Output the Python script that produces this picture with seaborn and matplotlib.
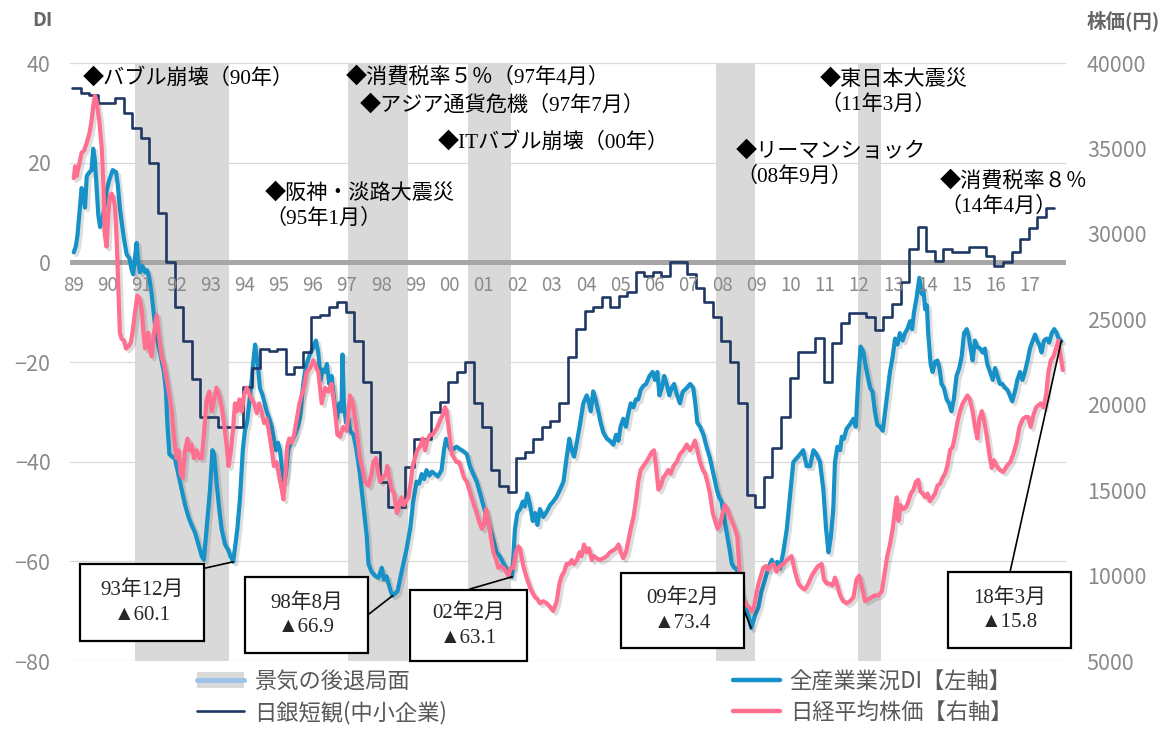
import numpy as np
import pandas as pd
import seaborn as sns
import matplotlib.pyplot as plt
import matplotlib.patheffects as pe
from matplotlib.patches import Patch, Rectangle
from matplotlib.lines import Line2D

W, H = 1176, 729

# ---------------- data ----------------
year_labels = ["89", "90", "91", "92", "93", "94", "95", "96", "97", "98", "99",
               "00", "01", "02", "03", "04", "05", "06", "07", "08", "09", "10",
               "11", "12", "13", "14", "15", "16", "17"]

# recession phases (first month, last month)
recession_start = ["1991-02", "1997-05", "2000-11", "2008-02", "2012-04"]
recession_end = ["1993-10", "1999-01", "2002-01", "2009-03", "2012-11"]

# BOJ tankan, small enterprises, quarterly from 1989 Q2 (DI)
tankan_di = [35, 34, 33.5,
             32, 32, 33, 30,
             27, 25, 20, 10,
             0, -9, -15.7, -23.5,
             -31, -31, -33, -33,
             -33, -25, -21.2, -17.3,
             -17.7, -17.3, -22.5, -21,
             -18, -11, -10.5, -9,
             -8, -10, -15.7, -24,
             -38, -44, -49, -49,
             -41, -35.4, -35.4, -30,
             -28, -24, -22, -20,
             -28.3, -33, -41.7, -44.8,
             -46, -39.3, -38, -35.4,
             -33, -31.8, -28.3, -18.9,
             -13.4, -9.8, -9, -6.9,
             -9, -6.7, -5.9, -2,
             -2.8, -2, -2.8, 0,
             0, -2.4, -5.1, -7.9,
             -11, -15.7, -20, -28.3,
             -46.6, -49, -43, -37.3,
             -31, -23.2, -17.9, -17.9,
             -15.1, -24, -16.1, -12.2,
             -10.1, -10.1, -11, -13.5,
             -11, -8.3, -3.9, 2.7,
             7.1, 2.2, 0.2, 2.6,
             2.1, 2.1, 3, 3,
             1.2, -0.8, 0, 2.1,
             4.7, 6.9, 9, 11,
             11]

# all-industry business conditions DI (vertices: year fraction, DI)
di_t = [1989.29, 1989.35, 1989.40, 1989.45, 1989.52, 1989.57, 1989.62, 1989.67, 1989.75, 1989.81,
        1989.86, 1989.91, 1989.96, 1990.01, 1990.06, 1990.13, 1990.20, 1990.25, 1990.33, 1990.43,
        1990.53, 1990.58, 1990.64, 1990.69, 1990.76, 1990.84, 1990.92, 1990.99, 1991.03, 1991.08,
        1991.13, 1991.18, 1991.23, 1991.31, 1991.38, 1991.44, 1991.50, 1991.57, 1991.62, 1991.67,
        1991.74, 1991.80, 1991.86, 1991.93, 1991.99, 1992.03, 1992.09, 1992.17, 1992.25, 1992.35,
        1992.45, 1992.55, 1992.65, 1992.74, 1992.84, 1992.94, 1993.04, 1993.10, 1993.18, 1993.28,
        1993.35, 1993.40, 1993.47, 1993.55, 1993.62, 1993.72, 1993.82, 1993.88, 1993.96, 1994.01,
        1994.08, 1994.16, 1994.24, 1994.30, 1994.37, 1994.43, 1994.50, 1994.55, 1994.60, 1994.65,
        1994.70, 1994.74, 1994.82, 1994.94, 1995.02, 1995.09, 1995.15, 1995.21, 1995.27, 1995.33,
        1995.38, 1995.45, 1995.50, 1995.57, 1995.65, 1995.74, 1995.85, 1995.92, 1996.00, 1996.08,
        1996.20, 1996.31, 1996.38, 1996.45, 1996.52, 1996.58, 1996.65, 1996.70, 1996.77, 1996.84,
        1996.91, 1996.99, 1997.07, 1997.13, 1997.16, 1997.20, 1997.26, 1997.32, 1997.38, 1997.48,
        1997.57, 1997.67, 1997.77, 1997.87, 1997.92, 1998.01, 1998.11, 1998.21, 1998.31, 1998.375,
        1998.45, 1998.57, 1998.625, 1998.77, 1998.84, 1998.94, 1999.04, 1999.14, 1999.23, 1999.33,
        1999.40, 1999.48, 1999.55, 1999.62, 1999.70, 1999.78, 1999.87, 1999.95, 2000.06, 2000.13,
        2000.19, 2000.26, 2000.33, 2000.42, 2000.50, 2000.60, 2000.70, 2000.80, 2000.89, 2000.99,
        2001.09, 2001.19, 2001.28, 2001.38, 2001.48, 2001.58, 2001.67, 2001.77, 2001.85, 2001.92,
        2001.99, 2002.07, 2002.125, 2002.21, 2002.28, 2002.36, 2002.44, 2002.50, 2002.57, 2002.65,
        2002.73, 2002.80, 2002.87, 2002.94, 2003.04, 2003.14, 2003.24, 2003.33, 2003.43, 2003.53,
        2003.63, 2003.72, 2003.80, 2003.87, 2003.94, 2004.02, 2004.12, 2004.21, 2004.31, 2004.37,
        2004.43, 2004.50, 2004.57, 2004.65, 2004.72, 2004.80, 2004.90, 2004.99, 2005.09, 2005.17,
        2005.24, 2005.30, 2005.38, 2005.46, 2005.53, 2005.60, 2005.68, 2005.75, 2005.82, 2005.89,
        2005.97, 2006.05, 2006.15, 2006.24, 2006.31, 2006.38, 2006.44, 2006.51, 2006.58, 2006.65,
        2006.73, 2006.80, 2006.87, 2006.94, 2007.04, 2007.12, 2007.24, 2007.34, 2007.43, 2007.49,
        2007.55, 2007.63, 2007.73, 2007.82, 2007.92, 2008.02, 2008.12, 2008.19, 2008.26, 2008.33,
        2008.41, 2008.49, 2008.56, 2008.63, 2008.70, 2008.77, 2008.85, 2008.95, 2009.04, 2009.125,
        2009.24, 2009.34, 2009.43, 2009.53, 2009.63, 2009.73, 2009.81, 2009.89, 2009.97, 2010.07,
        2010.17, 2010.26, 2010.36, 2010.46, 2010.56, 2010.65, 2010.75, 2010.85, 2010.95, 2011.04,
        2011.14, 2011.24, 2011.32, 2011.39, 2011.46, 2011.53, 2011.58, 2011.65, 2011.73, 2011.78,
        2011.84, 2011.92, 2012.02, 2012.12, 2012.19, 2012.26, 2012.33, 2012.41, 2012.49, 2012.56,
        2012.61, 2012.68, 2012.75, 2012.82, 2012.90, 2012.98, 2013.05, 2013.11, 2013.19, 2013.27,
        2013.34, 2013.41, 2013.48, 2013.56, 2013.63, 2013.70, 2013.78, 2013.84, 2013.89, 2013.97,
        2014.05, 2014.12, 2014.17, 2014.22, 2014.27, 2014.31, 2014.38, 2014.44, 2014.51, 2014.58,
        2014.64, 2014.70, 2014.77, 2014.85, 2014.92, 2014.99, 2015.06, 2015.14, 2015.22, 2015.29,
        2015.36, 2015.44, 2015.50, 2015.55, 2015.61, 2015.68, 2015.75, 2015.83, 2015.90, 2015.97,
        2016.04, 2016.12, 2016.20, 2016.27, 2016.34, 2016.41, 2016.48, 2016.56, 2016.63, 2016.70,
        2016.77, 2016.85, 2016.92, 2017.00, 2017.07, 2017.14, 2017.22, 2017.29, 2017.37, 2017.44,
        2017.50, 2017.56, 2017.63, 2017.70, 2017.78, 2017.85, 2017.93, 2018.00, 2018.07, 2018.13,
        2018.21]
di_v = [2.0, 3.2, 5.5, 9.4, 14.9, 13.5, 11.0, 17.3, 18.1, 18.5,
        22.8, 20.4, 14.9, 9.4, 7.1, 8.5, 11.8, 14.2, 16.5, 18.5,
        18.1, 15.5, 11.0, 8.3, 4.7, 1.6, 0.8, -1.6, -2.4, 0.8,
        3.9, 0.0, -2.0, -0.8, -2.0, -1.6, -3.1, -6.3, -9.4, -12.6,
        -15.7, -17.7, -19.7, -22.0, -25.9, -32.2, -38.5, -39.0, -39.3, -42.5,
        -45.6, -48.7, -51.1, -52.7, -54.2, -56.6, -59.0, -59.7, -53.5, -45.6,
        -37.7, -38.5, -44.0, -49.5, -53.5, -56.6, -57.8, -59.0, -60.1, -57.4,
        -53.5, -47.2, -37.7, -33.8, -31.8, -28.3, -23.6, -19.7, -16.5, -18.9,
        -22.0, -25.2, -26.7, -29.9, -31.4, -33.0, -35.4, -37.7, -36.2, -37.7,
        -40.9, -44.0, -42.5, -37.7, -36.0, -35.0, -33.0, -31.0, -25.0, -21.0,
        -18.5, -17.0, -15.7, -18.1, -23.6, -21.5, -22.0, -20.4, -24.4, -22.8,
        -27.5, -31.4, -28.3, -29.9, -18.5, -28.3, -32.2, -31.0, -33.8, -34.6,
        -37.7, -42.5, -48.7, -55.0, -60.5, -62.1, -62.9, -63.3, -61.3, -63.7,
        -63.0, -66.0, -66.9, -66.0, -63.7, -60.5, -57.4, -53.5, -48.0, -44.0,
        -44.4, -42.5, -43.5, -41.7, -42.8, -42.0, -42.5, -43.0, -41.7, -37.7,
        -35.4, -36.6, -37.7, -37.4, -37.0, -37.5, -37.9, -38.5, -40.9, -42.5,
        -44.0, -46.4, -48.7, -51.1, -53.5, -55.8, -58.2, -59.0, -60.1, -61.0,
        -61.7, -62.9, -63.1, -53.5, -50.3, -49.5, -48.0, -49.0, -46.4, -48.7,
        -51.9, -50.3, -52.7, -49.5, -51.1, -50.0, -48.7, -48.0, -47.0, -45.6,
        -44.0, -39.3, -35.4, -37.7, -39.0, -36.2, -32.2, -28.3, -26.7, -28.0,
        -29.9, -25.9, -27.5, -29.9, -32.2, -34.2, -35.4, -35.8, -36.6, -34.6,
        -35.8, -33.0, -31.4, -33.0, -30.3, -28.3, -29.1, -27.5, -27.5, -25.6,
        -24.8, -24.4, -22.8, -22.0, -23.6, -22.0, -26.7, -25.2, -22.8, -24.4,
        -26.7, -25.2, -24.4, -26.3, -28.3, -26.0, -25.2, -24.4, -25.2, -28.3,
        -32.2, -33.0, -34.6, -37.0, -39.3, -42.5, -45.6, -47.2, -48.0, -51.1,
        -54.2, -57.4, -60.5, -61.3, -61.5, -63.5, -66.8, -69.2, -70.8, -73.4,
        -70.8, -69.2, -66.0, -63.7, -61.3, -59.7, -61.0, -60.1, -61.5, -58.0,
        -53.5, -47.2, -40.1, -39.3, -38.5, -37.7, -40.9, -40.9, -37.7, -38.5,
        -40.0, -45.6, -53.5, -58.2, -55.0, -49.5, -40.1, -37.0, -37.7, -35.0,
        -35.4, -33.4, -32.5, -31.4, -33.0, -23.6, -16.9, -18.0, -21.2, -23.6,
        -25.2, -26.0, -29.9, -32.6, -33.0, -33.8, -29.9, -26.7, -22.0, -18.9,
        -15.3, -16.5, -14.2, -15.7, -14.2, -13.4, -11.8, -13.4, -10.2, -7.1,
        -3.1, -6.3, -5.5, -9.4, -8.6, -14.2, -20.4, -22.0, -20.0, -19.7,
        -21.2, -24.4, -25.2, -27.5, -28.3, -29.9, -27.5, -22.8, -21.2, -18.9,
        -14.2, -13.4, -15.0, -17.3, -19.7, -15.7, -17.0, -17.3, -18.1, -17.3,
        -20.4, -22.0, -23.6, -21.2, -22.8, -24.4, -24.4, -25.2, -25.6, -26.7,
        -27.9, -25.9, -23.6, -22.0, -23.6, -22.0, -19.7, -17.3, -15.7, -14.5,
        -15.7, -16.5, -18.1, -15.7, -15.3, -16.1, -14.2, -13.4, -14.2, -15.3,
        -15.8]

# Nikkei 225 average (vertices: year fraction, yen)
nk_t = [1989.29, 1989.33, 1989.375, 1989.45, 1989.52, 1989.59, 1989.67, 1989.75, 1989.81, 1989.86,
        1989.91, 1989.96, 1990.04, 1990.11, 1990.16, 1990.20, 1990.25, 1990.30, 1990.35, 1990.40,
        1990.45, 1990.50, 1990.55, 1990.60, 1990.64, 1990.69, 1990.76, 1990.82, 1990.89, 1990.96,
        1991.01, 1991.08, 1991.15, 1991.21, 1991.28, 1991.33, 1991.38, 1991.42, 1991.47, 1991.52,
        1991.57, 1991.64, 1991.72, 1991.80, 1991.86, 1991.93, 1992.01, 1992.09, 1992.16, 1992.22,
        1992.30, 1992.36, 1992.42, 1992.48, 1992.55, 1992.62, 1992.67, 1992.74, 1992.81, 1992.89,
        1992.97, 1993.04, 1993.10, 1993.18, 1993.26, 1993.33, 1993.40, 1993.47, 1993.55, 1993.62,
        1993.69, 1993.77, 1993.82, 1993.88, 1993.96, 1994.01, 1994.08, 1994.14, 1994.21, 1994.27,
        1994.35, 1994.43, 1994.50, 1994.57, 1994.65, 1994.72, 1994.79, 1994.86, 1994.94, 1995.02,
        1995.09, 1995.15, 1995.23, 1995.31, 1995.38, 1995.43, 1995.49, 1995.54, 1995.60, 1995.67,
        1995.74, 1995.82, 1995.90, 1995.96, 1996.03, 1996.11, 1996.21, 1996.31, 1996.40, 1996.45,
        1996.55, 1996.65, 1996.74, 1996.84, 1996.94, 1997.01, 1997.09, 1997.18, 1997.28, 1997.38,
        1997.46, 1997.53, 1997.59, 1997.67, 1997.75, 1997.82, 1997.92, 1998.01, 1998.06, 1998.14,
        1998.21, 1998.26, 1998.34, 1998.43, 1998.47, 1998.53, 1998.60, 1998.67, 1998.75, 1998.80,
        1998.84, 1998.89, 1998.96, 1999.02, 1999.09, 1999.16, 1999.21, 1999.28, 1999.35, 1999.43,
        1999.51, 1999.58, 1999.64, 1999.72, 1999.80, 1999.87, 1999.94, 2000.03, 2000.09, 2000.16,
        2000.21, 2000.29, 2000.36, 2000.43, 2000.50, 2000.58, 2000.65, 2000.72, 2000.80, 2000.87,
        2000.94, 2001.01, 2001.09, 2001.17, 2001.24, 2001.30, 2001.36, 2001.43, 2001.50, 2001.58,
        2001.66, 2001.72, 2001.79, 2001.87, 2001.95, 2002.02, 2002.08, 2002.16, 2002.24, 2002.31,
        2002.36, 2002.44, 2002.50, 2002.57, 2002.65, 2002.73, 2002.80, 2002.87, 2002.94, 2003.04,
        2003.14, 2003.24, 2003.33, 2003.43, 2003.51, 2003.58, 2003.65, 2003.72, 2003.80, 2003.87,
        2003.94, 2004.02, 2004.10, 2004.16, 2004.23, 2004.31, 2004.38, 2004.46, 2004.52, 2004.60,
        2004.70, 2004.80, 2004.90, 2004.99, 2005.09, 2005.17, 2005.24, 2005.31, 2005.38, 2005.46,
        2005.53, 2005.60, 2005.68, 2005.75, 2005.82, 2005.89, 2005.97, 2006.05, 2006.12, 2006.21,
        2006.28, 2006.34, 2006.41, 2006.48, 2006.55, 2006.63, 2006.70, 2006.77, 2006.85, 2006.94,
        2007.04, 2007.14, 2007.24, 2007.33, 2007.41, 2007.48, 2007.55, 2007.63, 2007.71, 2007.78,
        2007.84, 2007.92, 2008.00, 2008.07, 2008.14, 2008.21, 2008.29, 2008.36, 2008.43, 2008.51,
        2008.58, 2008.65, 2008.72, 2008.78, 2008.85, 2008.92, 2008.99, 2009.07, 2009.14, 2009.20,
        2009.27, 2009.34, 2009.41, 2009.48, 2009.56, 2009.63, 2009.70, 2009.78, 2009.87, 2009.97,
        2010.07, 2010.17, 2010.31, 2010.41, 2010.51, 2010.60, 2010.70, 2010.80, 2010.90, 2011.00,
        2011.09, 2011.19, 2011.26, 2011.34, 2011.42, 2011.51, 2011.58, 2011.65, 2011.73, 2011.82,
        2011.92, 2012.02, 2012.12, 2012.21, 2012.29, 2012.36, 2012.46, 2012.56, 2012.65, 2012.75,
        2012.85, 2012.95, 2013.04, 2013.11, 2013.19, 2013.27, 2013.34, 2013.39, 2013.44, 2013.50,
        2013.58, 2013.66, 2013.73, 2013.80, 2013.88, 2013.95, 2014.02, 2014.08, 2014.15, 2014.22,
        2014.29, 2014.36, 2014.44, 2014.51, 2014.58, 2014.66, 2014.73, 2014.80, 2014.87, 2014.95,
        2015.03, 2015.10, 2015.16, 2015.24, 2015.32, 2015.39, 2015.46, 2015.53, 2015.61, 2015.68,
        2015.75, 2015.81, 2015.88, 2015.94, 2016.02, 2016.10, 2016.17, 2016.24, 2016.31, 2016.41,
        2016.51, 2016.61, 2016.71, 2016.80, 2016.90, 2016.98, 2017.08, 2017.16, 2017.24, 2017.31,
        2017.39, 2017.47, 2017.53, 2017.60, 2017.68, 2017.76, 2017.83, 2017.90, 2017.98, 2018.05,
        2018.12, 2018.19, 2018.25]
nk_v = [33260, 33950, 33380, 34070, 34750, 34870, 35330, 35900, 36590, 37500,
        38080, 37730, 36590, 34980, 32690, 29940, 29250, 31090, 32230, 32350,
        32100, 31540, 29480, 26500, 24210, 23860, 23750, 23290, 23400, 23630,
        24210, 25350, 26380, 26270, 25580, 24210, 23290, 23750, 24210, 23170,
        22830, 24210, 25240, 23750, 22830, 22370, 21450, 20540, 19620, 18240,
        16870, 17330, 15950, 15720, 17330, 18020, 17330, 17670, 16870, 17330,
        16870, 16870, 18240, 20310, 20770, 19620, 20310, 21000, 20540, 19850,
        18930, 17560, 16410, 17100, 18700, 20080, 19620, 20310, 19620, 20540,
        21000, 20650, 20310, 20080, 19500, 20080, 19620, 18930, 19160, 18240,
        17330, 16410, 16640, 15720, 15030, 14460, 15950, 17560, 18020, 17790,
        18240, 19160, 20080, 20540, 21000, 21910, 22140, 22600, 22140, 21910,
        20080, 20990, 20770, 21230, 19620, 18240, 18130, 18700, 18470, 20540,
        20080, 19160, 18240, 16870, 16180, 15490, 15260, 15950, 16640, 16870,
        15950, 15490, 15720, 15950, 16410, 15720, 15030, 14800, 13660, 13890,
        14350, 14580, 14120, 14350, 14580, 15490, 16410, 16870, 17330, 17560,
        18020, 17330, 17900, 18240, 18240, 18470, 18700, 19160, 19390, 19850,
        19620, 18240, 17100, 16870, 16640, 16640, 16180, 15720, 15490, 15030,
        14580, 14120, 13660, 13090, 12740, 12960, 13890, 13200, 12280, 11360,
        10910, 10450, 10560, 10450, 10220, 9990, 10450, 10450, 11360, 11710,
        11590, 10680, 10220, 9760, 9300, 8960, 8730, 8610, 8380, 8500,
        8380, 8150, 7930, 8480, 9530, 9990, 10220, 10680, 10680, 10910,
        10680, 10910, 11360, 11140, 11820, 11360, 11590, 10910, 11140, 11020,
        10910, 11020, 11140, 11360, 11480, 11590, 11820, 11360, 11020, 11360,
        12050, 12740, 13430, 14350, 15490, 16180, 16410, 16640, 16870, 17210,
        17330, 16410, 15030, 15260, 15720, 15950, 16180, 15950, 16410, 16640,
        17100, 17330, 17670, 17330, 17560, 17900, 17330, 16640, 16180, 15950,
        15490, 14800, 13660, 13200, 12740, 12970, 13660, 14120, 13890, 13430,
        13090, 12740, 12280, 10450, 8840, 8500, 8270, 8150, 7900, 8100,
        8840, 9530, 9990, 10450, 10560, 10330, 10560, 10680, 10220, 10560,
        10680, 10910, 11140, 10220, 9530, 9300, 9190, 9530, 9990, 10330,
        10560, 10680, 9760, 9530, 9530, 9420, 9880, 9420, 8840, 8500,
        8380, 8500, 8730, 9760, 9990, 9420, 8500, 8610, 8730, 8840,
        8840, 9070, 10220, 11140, 11820, 12740, 13890, 14580, 13200, 14120,
        13890, 14000, 14350, 14800, 15030, 15490, 15600, 14920, 14800, 14580,
        14800, 14350, 14580, 14800, 15260, 15380, 15720, 15950, 16410, 17330,
        17560, 18240, 18930, 19620, 20080, 20310, 20540, 20310, 19620, 18700,
        18020, 19160, 19620, 19160, 18240, 17100, 16300, 16750, 16410, 16180,
        16070, 16410, 16640, 17100, 17790, 18700, 19160, 19280, 19280, 18700,
        19390, 19850, 19960, 20080, 19850, 20540, 21910, 22600, 22830, 23290,
        23750, 22830, 22030]

# events written on the chart
event_texts = ["◆バブル崩壊（90年）",
               "◆消費税率５％（97年4月）",
               "◆アジア通貨危機（97年7月）",
               "◆ITバブル崩壊（00年）",
               "◆阪神・淡路大震災\n（95年1月）",
               "◆リーマンショック\n（08年9月）",
               "◆東日本大震災\n（11年3月）",
               "◆消費税率８％\n（14年4月）"]

# labelled troughs / latest value of the DI
callout_months = ["1993-12", "1998-08", "2002-02", "2009-02", "2018-03"]
callout_values = [-60.1, -66.9, -63.1, -73.4, -15.8]

legend_labels = ["景気の後退局面", "日銀短観(中小企業)", "全産業業況DI【左軸】", "日経平均株価【右軸】"]

# ---------------- styling ----------------
BLUE = "#1692c8"
PINK = "#ff7090"
NAVY = "#1f3864"
BAND = "#d9d9d9"
GRID = "#d9d9d9"
ZERO = "#a6a6a6"
TICK = "#8a8a8a"
SANS = ["Noto Sans CJK JP", "DejaVu Sans"]
SERIF = ["Liberation Serif", "Noto Sans CJK JP", "DejaVu Sans"]

sns.set_theme(style="white")
plt.rcParams["font.family"] = SANS
plt.rcParams["axes.unicode_minus"] = True


def month_start(ym):
    y, m = ym.split("-")
    return int(y) + (int(m) - 1) / 12


def fx(px):
    return px / W


def fy(py):
    return 1 - py / H


fig = plt.figure(figsize=(W / 100, H / 100), dpi=100)
ax1 = fig.add_axes([fx(70), fy(661), fx(1066) - fx(70), fy(63) - fy(661)])
ax2 = ax1.twinx()

shadow = [pe.SimpleLineShadow(offset=(2, -2), shadow_color="#444444", alpha=0.18), pe.Normal()]

# recession bands
for s, e in zip(recession_start, recession_end):
    ax1.axvspan(month_start(s), month_start(e) + 1 / 12, color=BAND, lw=0, zorder=0.8)

ax1.axhline(0, color=ZERO, lw=3.6, zorder=1)

di_df = pd.DataFrame({"t": di_t, "v": di_v})
sns.lineplot(data=di_df, x="t", y="v", ax=ax1, color=BLUE, lw=3.0, sort=False,
             estimator=None, zorder=2, path_effects=shadow)

tk_df = pd.DataFrame({"t": 1989.25 + 0.25 * np.arange(len(tankan_di)), "v": tankan_di})
sns.lineplot(data=tk_df, x="t", y="v", ax=ax1, color=NAVY, lw=1.9, sort=False,
             estimator=None, drawstyle="steps-post", zorder=3)

nk_df = pd.DataFrame({"t": nk_t, "v": nk_v})
sns.lineplot(data=nk_df, x="t", y="v", ax=ax2, color=PINK, lw=3.0, sort=False,
             estimator=None, zorder=2, path_effects=shadow)

ax1.set_xlim(1989.18, 2018.345)
ax1.set_ylim(-80, 40)
ax2.set_ylim(5000, 40000)
ax1.set_yticks(range(-80, 41, 20))
ax2.set_yticks(range(5000, 40001, 5000))
ax1.set_xticks([])
for a in (ax1, ax2):
    a.set_xlabel("")
    a.set_ylabel("")
    for sp in a.spines.values():
        sp.set_visible(False)
ax1.grid(axis="y", color=GRID, lw=0.9)
ax1.set_axisbelow(True)
ax1.tick_params(axis="y", length=0, pad=14, labelsize=15.5, labelcolor=TICK)
ax2.tick_params(axis="y", length=0, pad=15, labelsize=15.5, labelcolor=TICK)

# year labels sitting under the zero line (April of each year)
for i, lab in enumerate(year_labels):
    ax1.text(1989 + i + 0.29, -4.6, lab, ha="center", va="center",
             fontsize=13.5, color=TICK, zorder=4)

# axis titles
fig.text(fx(32), fy(21), "DI", ha="left", va="center", fontsize=14,
         fontweight="bold", color="#666666")
fig.text(fx(1087), fy(21), "株価(円)", ha="left", va="center", fontsize=14,
         fontweight="bold", color="#666666")

# event notes
event_pos = [(83, 78), (346, 77), (360, 105), (438, 142),
             (265, 206), (736, 164), (820, 92), (940, 194)]
for txt, (px, py) in zip(event_texts, event_pos):
    fig.text(fx(px), fy(py), txt, ha="left", va="center", fontsize=15.2,
             family=SERIF, color="black", linespacing=1.3)

# call-out boxes
box_pos = [(80, 564, 204, 641), (245, 577, 368, 653), (410, 590, 527, 661),
           (621, 573, 744, 648), (948, 572, 1071, 648)]
line_from = [(201, 569), (369, 614), (470, 589), (744, 610), (1010, 572)]
for ym, val, (x0, y0, x1, y1), (lx, ly) in zip(callout_months, callout_values, box_pos, line_from):
    y, m = ym.split("-")
    t = month_start(ym) + 1 / 24
    ax2.annotate("", xy=(t, val), xycoords=ax1.transData,
                 xytext=(lx, H - ly), textcoords="figure pixels",
                 arrowprops=dict(arrowstyle="-", color="black", lw=1.2,
                                 shrinkA=0, shrinkB=0),
                 annotation_clip=False, zorder=6)
    fig.patches.append(Rectangle((fx(x0), fy(y1)), fx(x1) - fx(x0), fy(y0) - fy(y1),
                                 transform=fig.transFigure, facecolor="white",
                                 edgecolor="black", lw=1.6, zorder=7))
    label = f"{y[2:]}年{int(m)}月\n▲{abs(val):.1f}"
    fig.text(fx((x0 + x1) / 2), fy((y0 + y1) / 2), label, ha="center", va="center",
             fontsize=15, family=SERIF, linespacing=1.4, zorder=8)

# legend, two columns
rec_handle = (Patch(facecolor=BAND, edgecolor="none"), Line2D([], [], color="#9dc3e6", lw=3.6))
leg_kw = dict(frameon=False, fontsize=16, labelcolor="#595959", handlelength=2.1,
              handletextpad=0.45, labelspacing=0.35, borderpad=0, borderaxespad=0,
              loc="center left")
fig.legend([rec_handle, Line2D([], [], color=NAVY, lw=1.9)], legend_labels[:2],
           bbox_to_anchor=(fx(197), fy(697)), **leg_kw)
fig.legend([Line2D([], [], color=BLUE, lw=3.2), Line2D([], [], color=PINK, lw=3.2)],
           legend_labels[2:], bbox_to_anchor=(fx(733), fy(697)), **leg_kw)

fig.savefig("out.png", dpi=100)
